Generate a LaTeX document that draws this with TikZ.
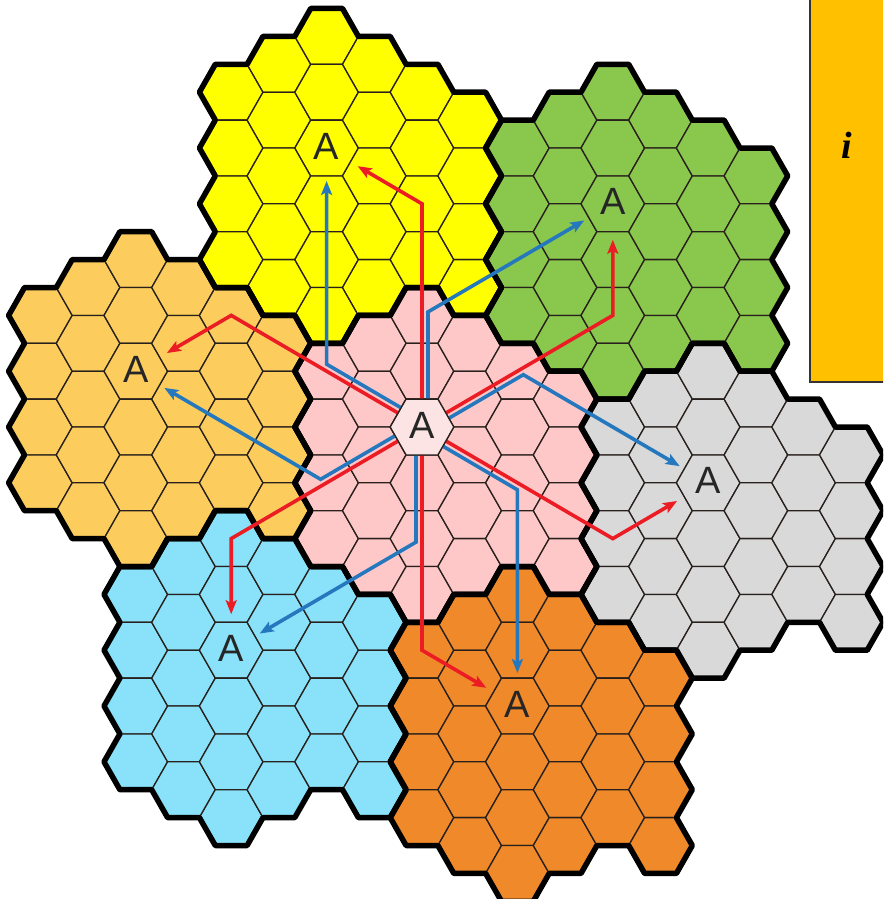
\documentclass[tikz,border=0pt]{standalone}
\usepackage{fontspec}
\setmainfont{Liberation Sans}
\newfontfamily\lserif{Liberation Serif}
\usetikzlibrary{arrows.meta}
\definecolor{colY}{RGB}{255,255,0}
\definecolor{colG}{RGB}{137,199,77}
\definecolor{colR}{RGB}{217,217,217}
\definecolor{colO}{RGB}{240,137,42}
\definecolor{colB}{RGB}{137,226,250}
\definecolor{colL}{RGB}{252,205,92}
\definecolor{colP}{RGB}{255,200,200}
\definecolor{colPA}{RGB}{252,228,228}
\definecolor{colBox}{RGB}{255,192,0}
\definecolor{cellline}{RGB}{40,32,28}
\definecolor{arrred}{RGB}{235,28,36}
\definecolor{arrblue}{RGB}{38,120,190}
\def\celllist{-2/-1,-2/0,-2/1,-2/2,-1/-1.5,-1/-0.5,-1/0.5,-1/1.5,-1/2.5,0/-2,0/-1,0/0,0/1,0/2,0/3,1/-1.5,1/-0.5,1/0.5,1/1.5,1/2.5,2/-1,2/0,2/1,2/2,3/-0.5,3/0.5,3/1.5,3/2.5}
\tikzset{
  cell/.style={draw=cellline, line width=1.3pt, line join=round},
  clusteredge/.style={draw=black, line width=5.5pt, line join=round, line cap=round},
  redarr/.style={draw=arrred, line width=3.6pt, -{Stealth[length=14pt,width=11pt,inset=3pt]}, shorten >=36pt},
  bluearr/.style={draw=arrblue, line width=3.6pt, -{Stealth[length=14pt,width=11pt,inset=3pt]}, shorten >=33pt},
  lbl/.style={font=\fontsize{38}{38}\selectfont, text=black!85, inner sep=0pt},
  infobox/.style={fill=colBox, draw=black!80, line width=1.2pt},
}
\newcommand{\drawcluster}[3]{%
  \begin{scope}[shift={(#1,#2)}]
    \foreach \c/\r in \celllist {
      \path[cell, fill=#3] (47.7*\c-31.8, 55.8*\r) -- ++(15.9,-27.9) -- ++(31.8,0) -- ++(15.9,27.9) -- ++(-15.9,27.9) -- ++(-31.8,0) -- cycle;
    }
  \end{scope}}
\newcommand{\clusteroutline}[2]{%
  \draw[clusteredge, shift={(#1,#2)}] (-127.2,-55.8) -- (-111.3,-83.7) -- (-79.5,-83.7) -- (-63.6,-111.6) -- (-31.8,-111.6) -- (-15.9,-139.5) -- (15.9,-139.5) -- (31.8,-111.6) -- (63.6,-111.6) -- (79.5,-83.7) -- (111.3,-83.7) -- (127.2,-55.8) -- (159,-55.8) -- (174.9,-27.9) -- (159,0) -- (174.9,27.9) -- (159,55.8) -- (174.9,83.7) -- (159,111.6) -- (174.9,139.5) -- (159,167.4) -- (127.2,167.4) -- (111.3,139.5) -- (79.5,139.5) -- (63.6,167.4) -- (31.8,167.4) -- (15.9,195.3) -- (-15.9,195.3) -- (-31.8,167.4) -- (-63.6,167.4) -- (-79.5,139.5) -- (-111.3,139.5) -- (-127.2,111.6) -- (-111.3,83.7) -- (-127.2,55.8) -- (-111.3,27.9) -- (-127.2,0) -- (-111.3,-27.9) -- cycle;}
\begin{document}
\begin{tikzpicture}[x=1pt, y=-1pt]
\path[use as bounding box] (0,0) rectangle (883,899);
\clip (0,0) rectangle (883,899);
\fill[white] (0,0) rectangle (883,899);
% cluster centres
\coordinate (cP) at (422,427);
\coordinate (cY) at (326.6,148);
\coordinate (cG) at (612.8,203.8);
\coordinate (cR) at (708.2,482.8);
\coordinate (cO) at (517.4,706);
\coordinate (cB) at (231.2,650.2);
\coordinate (cL) at (135.8,371.2);
% cells
\drawcluster{422}{427}{colP}
\drawcluster{326.6}{148}{colY}
\drawcluster{612.8}{203.8}{colG}
\drawcluster{708.2}{482.8}{colR}
\drawcluster{517.4}{706}{colO}
\drawcluster{231.2}{650.2}{colB}
\drawcluster{135.8}{371.2}{colL}
% cluster outlines
\clusteroutline{422}{427}
\clusteroutline{326.6}{148}
\clusteroutline{612.8}{203.8}
\clusteroutline{708.2}{482.8}
\clusteroutline{517.4}{706}
\clusteroutline{231.2}{650.2}
\clusteroutline{135.8}{371.2}
% red bends
\coordinate (rY) at (422,203.8);
\coordinate (rG) at (612.8,315.4);
\coordinate (rR) at (612.8,538.6);
\coordinate (rO) at (422,650.2);
\coordinate (rB) at (231.2,538.6);
\coordinate (rL) at (231.2,315.4);
% blue starts and bends
\coordinate (sY) at (425,421.8);  \coordinate (bY) at (326.6,364.2);
\coordinate (sG) at (428,427);    \coordinate (bG) at (428,311.9);
\coordinate (sR) at (425,432.2);  \coordinate (bR) at (523.3,374.7);
\coordinate (sO) at (419,432.2);  \coordinate (bO) at (517.4,489.8);
\coordinate (sB) at (416,427);    \coordinate (bB) at (416,542.1);
\coordinate (sL) at (419,421.8);  \coordinate (bL) at (320.6,479.3);
% arrows
\draw[bluearr] (sY) -- (bY) -- (cY);
\draw[bluearr] (sG) -- (bG) -- (cG);
\draw[bluearr] (sR) -- (bR) -- (cR);
\draw[bluearr] (sO) -- (bO) -- (cO);
\draw[bluearr] (sB) -- (bB) -- (cB);
\draw[bluearr] (sL) -- (bL) -- (cL);
\draw[redarr] (cP) -- (rY) -- (cY);
\draw[redarr] (cP) -- (rG) -- (cG);
\draw[redarr] (cP) -- (rR) -- (cR);
\draw[redarr] (cP) -- (rO) -- (cO);
\draw[redarr] (cP) -- (rB) -- (cB);
\draw[redarr] (cP) -- (rL) -- (cL);
% centre cell
\path[cell, fill=colPA] (422-31.8,427) -- ++(15.9,-27.9) -- ++(31.8,0) -- ++(15.9,27.9) -- ++(-15.9,27.9) -- ++(-31.8,0) -- cycle;
% labels
\node[lbl] (aP) at (422,425) {A};
\node[lbl] (aY) at (326.6,146) {A};
\node[lbl] (aG) at (612.8,201.8) {A};
\node[lbl] (aR) at (708.2,480.8) {A};
\node[lbl] (aO) at (517.4,704) {A};
\node[lbl] (aB) at (231.2,648.2) {A};
\node[lbl] (aL) at (135.8,369.2) {A};
% info box
\path[infobox] (810,-10) rectangle (900,382);
\node[font=\lserif\bfseries\itshape\fontsize{38}{38}\selectfont, inner sep=0pt] (iletter) at (847,145) {i};
\end{tikzpicture}
\end{document}
